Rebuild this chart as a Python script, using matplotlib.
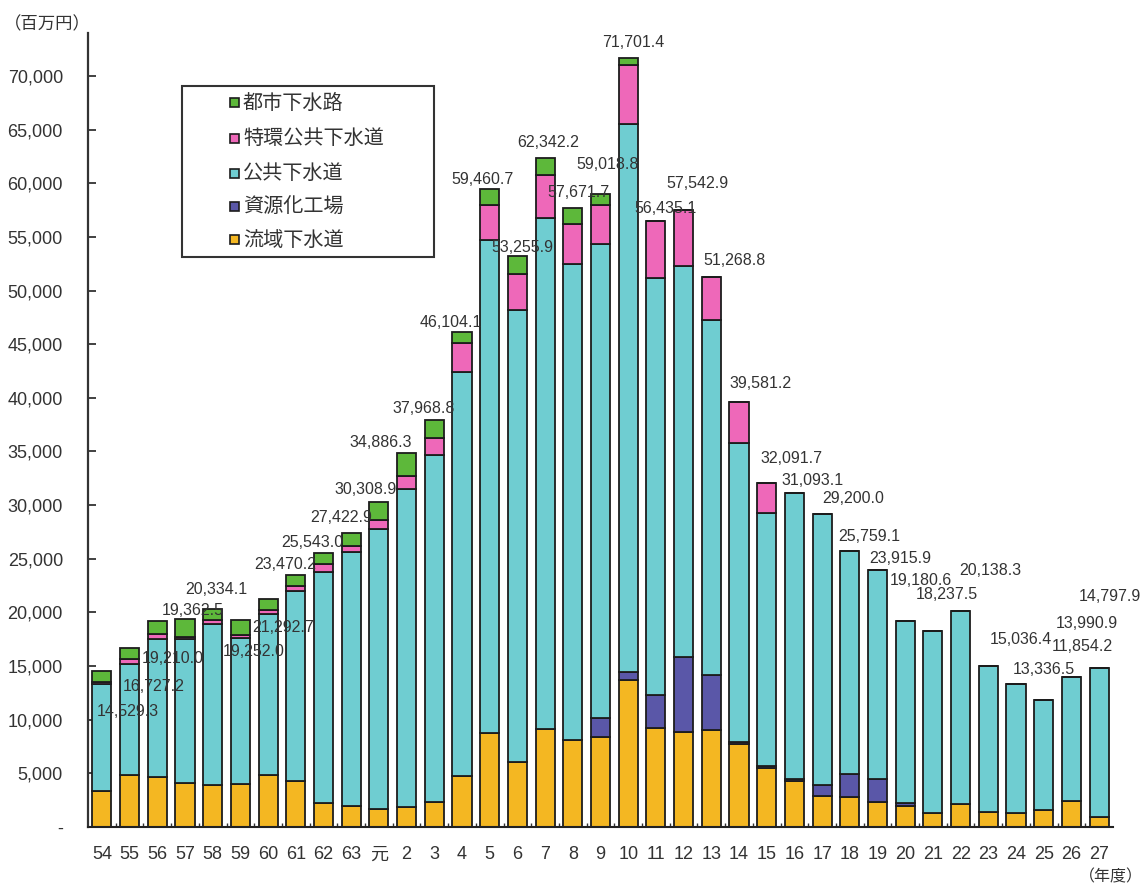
import numpy as np
import matplotlib
matplotlib.use("Agg")
import matplotlib.pyplot as plt
from matplotlib.patches import Rectangle

plt.rcParams['font.family'] = ['Liberation Sans', 'Noto Sans CJK JP', 'DejaVu Sans']

# fiscal years (Showa 54-63, Heisei 元-27)
years = ['54', '55', '56', '57', '58', '59', '60', '61', '62', '63', '元',
         '2', '3', '4', '5', '6', '7', '8', '9', '10', '11', '12', '13', '14',
         '15', '16', '17', '18', '19', '20', '21', '22', '23', '24', '25', '26', '27']

# 流域下水道
ryuiki = [3400, 4800, 4700, 4100, 3900, 4000, 4800, 4300, 2200, 2000, 1650,
          1900, 2300, 4750, 8800, 6100, 9100, 8100, 8400, 13700, 9200, 8850, 9000, 7700,
          5500, 4300, 2900, 2800, 2350, 1950, 1350, 2100, 1400, 1300, 1550, 2450, 950]
# 資源化工場
shigenka = [0, 0, 0, 0, 0, 0, 0, 0, 0, 0, 0,
            0, 0, 0, 0, 0, 0, 0, 1750, 700, 3100, 7000, 5150, 200,
            200, 150, 1000, 2150, 2100, 300, 0, 0, 0, 0, 0, 0, 0]
# 公共下水道
koukyou = [9900, 10400, 12800, 13400, 15000, 13650, 15050, 17700, 21550, 23600, 26100,
           29600, 32350, 37650, 45900, 42100, 47650, 44350, 44150, 51100, 38850, 36400, 33100, 27900,
           23600, 26643.1, 25300, 20809.1, 19465.9, 16930.6, 16887.5, 18038.3, 13636.4, 12036.5,
           10304.2, 11540.9, 13847.9]
# 特環公共下水道
tokkan = [250, 500, 500, 200, 350, 250, 400, 450, 750, 600, 850,
          1200, 1650, 2700, 3300, 3300, 4000, 3750, 3650, 5500, 5285.1, 5292.9, 4018.8, 3781.2,
          2791.7, 0, 0, 0, 0, 0, 0, 0, 0, 0, 0, 0, 0]
# 都市下水路
toshi = [979.3, 1027.2, 1210.0, 1662.5, 1084.1, 1352.0, 1042.7, 1020.2, 1043.0, 1222.9, 1708.9,
         2186.3, 1668.8, 1004.1, 1460.7, 1755.9, 1592.2, 1471.7, 1068.8, 701.4, 0, 0, 0, 0,
         0, 0, 0, 0, 0, 0, 0, 0, 0, 0, 0, 0, 0]

totals = [14529.3, 16727.2, 19210.0, 19362.5, 20334.1, 19252.0, 21292.7, 23470.2, 25543.0,
          27422.9, 30308.9, 34886.3, 37968.8, 46104.1, 59460.7, 53255.9, 62342.2, 57671.7,
          59018.8, 71701.4, 56435.1, 57542.9, 51268.8, 39581.2, 32091.7, 31093.1, 29200.0,
          25759.1, 23915.9, 19180.6, 18237.5, 20138.3, 15036.4, 13336.5, 11854.2, 13990.9,
          14797.9]

series = ['流域下水道', '資源化工場', '公共下水道', '特環公共下水道', '都市下水路']
colors = ['#F4B722', '#5A57A8', '#6FCDD1', '#EE68B9', '#5DB83A']

# where each total label sits (bar index, value)
label_x = [0.92, 1.86, 2.55, 3.27, 4.13, 5.47, 6.55, 6.62, 7.60, 8.65, 9.51,
           10.05, 11.61, 12.58, 13.74, 15.18, 16.12, 17.20, 18.25, 19.19, 20.34, 21.50,
           22.83, 23.77, 24.89, 25.65, 27.13, 27.71, 28.83, 29.55, 30.49, 32.08, 33.16,
           34.02, 35.40, 35.54, 36.40]
label_y = [10720, 13050, 15750, 20220, 22090, 16310, 18550, 24420, 26560, 28890, 31410,
           35880, 38960, 47060, 60300, 54050, 63750, 59090, 61700, 73070, 57690, 60020,
           52840, 41290, 34390, 32250, 30570, 27030, 24980, 23020, 21710, 23860, 17430,
           14720, 16780, 19010, 21440]

W, H = 1146, 888


def fx(px):
    return px / W


def fy(py):
    return 1 - py / H


fig = plt.figure(figsize=(W / 100, H / 100), dpi=100)
ax = fig.add_axes([fx(88), fy(827), fx(1113) - fx(88), fy(33) - fy(827)])

x = np.arange(len(years))
bottom = np.zeros(len(years))
for name, vals, c in zip(series, [ryuiki, shigenka, koukyou, tokkan, toshi], colors):
    vals = np.array(vals, dtype=float)
    ax.bar(x, vals, 0.69, bottom=bottom, color=c, edgecolor='#1c1c1c',
           linewidth=1.3, label=name, zorder=2)
    bottom += vals

for lx, ly, t in zip(label_x, label_y, totals):
    ax.text(lx, ly, f"{t:,.1f}", ha='center', va='center', fontsize=11.5,
            color='#333333', zorder=3)

ax.set_xlim(-0.5, 36.5)
ax.set_ylim(0, 74000)

yt = np.arange(0, 75000, 5000)
ax.set_yticks(yt)
ax.set_yticklabels(['-'] + [f"{v:,}" for v in yt[1:]])
ax.tick_params(axis='y', direction='in', length=6, width=1.3, pad=18,
               labelsize=13, labelcolor='#333333', color='#333333')

ax.set_xticks(x)
ax.set_xticklabels(years)
ax.set_xticks(x[:-1] + 0.5, minor=True)
ax.tick_params(axis='x', which='major', length=0, pad=14, labelsize=13,
               labelcolor='#333333')
ax.tick_params(axis='x', which='minor', direction='in', length=3, width=1,
               color='#333333')

for s in ['top', 'right']:
    ax.spines[s].set_visible(False)
ax.spines['left'].set_color('#333333')
ax.spines['left'].set_linewidth(1.6)
ax.spines['bottom'].set_color('#222222')
ax.spines['bottom'].set_linewidth(1.5)

# legend box, newest series on top
fig.add_artist(Rectangle((fx(182), fy(257)), fx(434) - fx(182), fy(86) - fy(257),
                         transform=fig.transFigure, facecolor='white',
                         edgecolor='#333333', linewidth=1.5))
entry_y = [240, 207, 173, 138, 103]
for name, c, py in zip(series, colors, entry_y):
    fig.add_artist(Rectangle((fx(230), fy(py + 4.5)), fx(9), fy(0) - fy(9),
                             transform=fig.transFigure, facecolor=c,
                             edgecolor='#1c1c1c', linewidth=1.2))
    fig.text(fx(243), fy(py), name, ha='left', va='center', fontsize=14.5,
             color='#333333')

fig.text(fx(4), fy(24), '（百万円）', ha='left', va='center', fontsize=12.5,
         color='#333333')
fig.text(fx(1143), fy(877), '（年度）', ha='right', va='center', fontsize=11.5,
         color='#333333')

fig.savefig('out.png', dpi=100, facecolor='white')
